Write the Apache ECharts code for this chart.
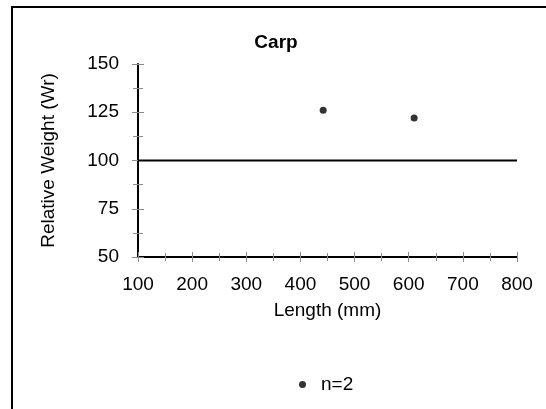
<!DOCTYPE html>
<html>
<head>
<meta charset="utf-8">
<title>Carp</title>
<script src="https://cdn.jsdelivr.net/npm/echarts@6/dist/echarts.min.js"></script>
<style>
  html, body { margin: 0; padding: 0; background: #fff; }
  #main { width: 546px; height: 409px; }
</style>
</head>
<body>
<div id="main"></div>
<script>
const lengthMm = [442, 610]
const relWeight = [126, 122]
// standard line Wr = 100
const refLength = [100, 800]
const refWeight = [100, 100]
const seriesName = 'n=2'

const font = 'Arial, "Liberation Sans", sans-serif'
const tickGray = '#8c8c8c'

const chart = echarts.init(document.getElementById('main'))

// second pair of axes only draws the inner half of the ticks, so they cross the line
const xBase = { type: 'value', min: 100, max: 800, interval: 100 }
const yBase = { type: 'value', min: 50, max: 150, interval: 25 }

const option = {
  animation: false,
  backgroundColor: '#fff',
  graphic: [
    {
      type: 'rect',
      shape: { x: 12, y: 7, width: 560, height: 420 },
      style: { fill: 'none', stroke: '#000', lineWidth: 2 },
      z: 0
    }
  ],
  title: {
    text: 'Carp',
    left: 271,
    top: 28,
    textAlign: 'center',
    textStyle: { fontFamily: font, fontSize: 19, fontWeight: 'bold', color: '#000' }
  },
  grid: { left: 138, right: 29, top: 64, bottom: 152, containLabel: false },
  legend: {
    data: [seriesName],
    top: 370,
    left: 294,
    icon: 'circle',
    itemWidth: 7,
    itemHeight: 7,
    itemGap: 0,
    textStyle: { fontFamily: font, fontSize: 19, color: '#000', padding: [0, 0, 0, 10] }
  },
  xAxis: [
    Object.assign({}, xBase, {
      position: 'bottom',
      name: 'Length (mm)',
      nameLocation: 'middle',
      nameGap: 44,
      nameTextStyle: { fontFamily: font, fontSize: 19, color: '#000' },
      axisLine: { show: true, onZero: false, lineStyle: { color: '#000', width: 2 } },
      axisTick: { show: true, length: 5, lineStyle: { color: tickGray, width: 1 } },
      minorTick: { show: true, splitNumber: 2, length: 4, lineStyle: { color: tickGray, width: 1 } },
      axisLabel: { margin: 18, fontFamily: font, fontSize: 19, color: '#000' },
      splitLine: { show: false }
    }),
    Object.assign({}, xBase, {
      position: 'bottom',
      axisLine: { show: false, onZero: false },
      axisTick: { show: true, inside: true, length: 5, lineStyle: { color: tickGray, width: 1 } },
      minorTick: { show: true, splitNumber: 2, length: 4, lineStyle: { color: tickGray, width: 1 } },
      axisLabel: { show: false },
      splitLine: { show: false }
    })
  ],
  yAxis: [
    Object.assign({}, yBase, {
      position: 'left',
      name: 'Relative Weight (Wr)',
      nameLocation: 'middle',
      nameGap: 80,
      nameTextStyle: { fontFamily: font, fontSize: 19, color: '#000' },
      axisLine: { show: true, onZero: false, lineStyle: { color: '#000', width: 2 } },
      axisTick: { show: true, length: 6, lineStyle: { color: tickGray, width: 1 } },
      minorTick: { show: true, splitNumber: 2, length: 5, lineStyle: { color: tickGray, width: 1 } },
      axisLabel: { margin: 19, fontFamily: font, fontSize: 19, color: '#000' },
      splitLine: { show: false }
    }),
    Object.assign({}, yBase, {
      position: 'left',
      axisLine: { show: false, onZero: false },
      axisTick: { show: true, inside: true, length: 6, lineStyle: { color: tickGray, width: 1 } },
      minorTick: { show: true, splitNumber: 2, length: 5, lineStyle: { color: tickGray, width: 1 } },
      axisLabel: { show: false },
      splitLine: { show: false }
    })
  ],
  series: [
    {
      name: 'Wr = 100',
      type: 'line',
      data: refLength.map((x, i) => [x, refWeight[i]]),
      symbol: 'none',
      lineStyle: { color: '#000', width: 2 },
      silent: true
    },
    {
      name: seriesName,
      type: 'scatter',
      data: lengthMm.map((x, i) => [x, relWeight[i]]),
      symbol: 'circle',
      symbolSize: 7,
      itemStyle: { color: '#000' }
    }
  ]
}

chart.setOption(option)
</script>
</body>
</html>
